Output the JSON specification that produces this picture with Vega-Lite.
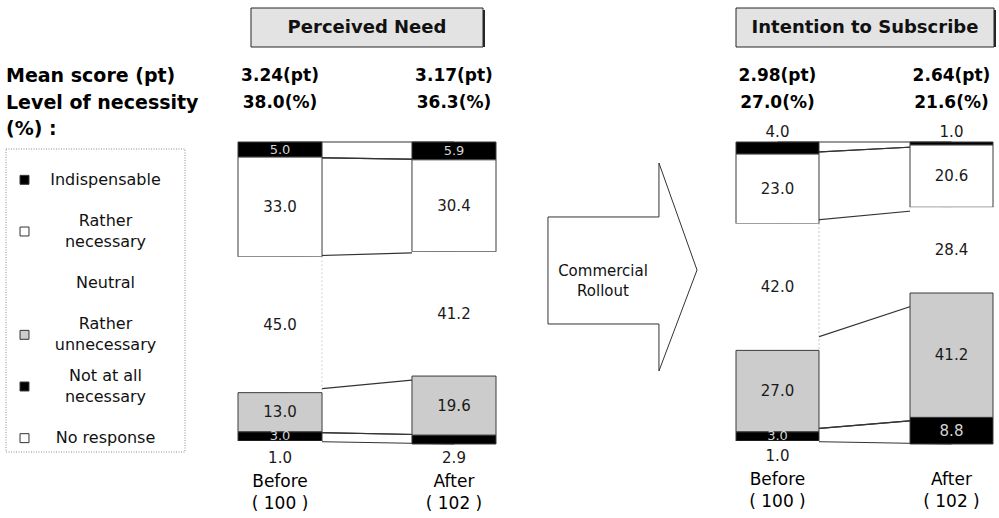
{
  "$schema": "https://vega.github.io/schema/vega-lite/v6.json",
  "background": "white",
  "padding": {"left": 5, "top": 7, "right": 0, "bottom": 0},
  "config": {"view": {"stroke": null}, "font": "DejaVu Sans"},
  "datasets": {
    "panels": [
      {"panel": "Perceived Need"},
      {"panel": "Intention to Subscribe"}
    ],
    "rows": [
      {"metric": "Mean score (pt)"},
      {"metric": "Level of necessity"},
      {"metric": "(%) :"}
    ],
    "stats": [
      {"panel": "Perceived Need", "stage": "Before", "metric": "Mean score (pt)", "text": "3.24(pt)"},
      {"panel": "Perceived Need", "stage": "After", "metric": "Mean score (pt)", "text": "3.17(pt)"},
      {"panel": "Perceived Need", "stage": "Before", "metric": "Level of necessity", "text": "38.0(%)"},
      {"panel": "Perceived Need", "stage": "After", "metric": "Level of necessity", "text": "36.3(%)"},
      {"panel": "Intention to Subscribe", "stage": "Before", "metric": "Mean score (pt)", "text": "2.98(pt)"},
      {"panel": "Intention to Subscribe", "stage": "After", "metric": "Mean score (pt)", "text": "2.64(pt)"},
      {"panel": "Intention to Subscribe", "stage": "Before", "metric": "Level of necessity", "text": "27.0(%)"},
      {"panel": "Intention to Subscribe", "stage": "After", "metric": "Level of necessity", "text": "21.6(%)"}
    ],
    "segments": [
      {"panel": "Perceived Need", "stage": "Before", "category": "Indispensable", "pct": 5.0},
      {"panel": "Perceived Need", "stage": "Before", "category": "Rather necessary", "pct": 33.0},
      {"panel": "Perceived Need", "stage": "Before", "category": "Neutral", "pct": 45.0},
      {"panel": "Perceived Need", "stage": "Before", "category": "Rather unnecessary", "pct": 13.0},
      {"panel": "Perceived Need", "stage": "Before", "category": "Not at all necessary", "pct": 3.0},
      {"panel": "Perceived Need", "stage": "Before", "category": "No response", "pct": 1.0},
      {"panel": "Perceived Need", "stage": "After", "category": "Indispensable", "pct": 5.9},
      {"panel": "Perceived Need", "stage": "After", "category": "Rather necessary", "pct": 30.4},
      {"panel": "Perceived Need", "stage": "After", "category": "Neutral", "pct": 41.2},
      {"panel": "Perceived Need", "stage": "After", "category": "Rather unnecessary", "pct": 19.6},
      {"panel": "Perceived Need", "stage": "After", "category": "Not at all necessary", "pct": 2.9},
      {"panel": "Intention to Subscribe", "stage": "Before", "category": "Indispensable", "pct": 4.0},
      {"panel": "Intention to Subscribe", "stage": "Before", "category": "Rather necessary", "pct": 23.0},
      {"panel": "Intention to Subscribe", "stage": "Before", "category": "Neutral", "pct": 42.0},
      {"panel": "Intention to Subscribe", "stage": "Before", "category": "Rather unnecessary", "pct": 27.0},
      {"panel": "Intention to Subscribe", "stage": "Before", "category": "Not at all necessary", "pct": 3.0},
      {"panel": "Intention to Subscribe", "stage": "Before", "category": "No response", "pct": 1.0},
      {"panel": "Intention to Subscribe", "stage": "After", "category": "Indispensable", "pct": 1.0},
      {"panel": "Intention to Subscribe", "stage": "After", "category": "Rather necessary", "pct": 20.6},
      {"panel": "Intention to Subscribe", "stage": "After", "category": "Neutral", "pct": 28.4},
      {"panel": "Intention to Subscribe", "stage": "After", "category": "Rather unnecessary", "pct": 41.2},
      {"panel": "Intention to Subscribe", "stage": "After", "category": "Not at all necessary", "pct": 8.8}
    ],
    "legend": [
      {"category": "Indispensable", "label": "Indispensable", "lines": 1},
      {"category": "Rather necessary", "label": "Rather\nnecessary", "lines": 2},
      {"category": "Neutral", "label": "Neutral", "lines": 1},
      {"category": "Rather unnecessary", "label": "Rather\nunnecessary", "lines": 2},
      {"category": "Not at all necessary", "label": "Not at all\nnecessary", "lines": 2},
      {"category": "No response", "label": "No response", "lines": 1}
    ]
  },
  "columns": 4,
  "align": "each",
  "bounds": "flush",
  "spacing": {"row": 3, "column": 53},
  "concat": [
    {"width": 179, "height": 55, "data": {"values": []}, "mark": "point"},
    {
      "width": 258,
      "height": 39,
      "data": {"name": "panels"},
      "transform": [{"filter": "datum.panel === 'Perceived Need'"}],
      "encoding": {
        "x": {"field": "panel", "type": "nominal", "scale": {"type": "band", "paddingInner": 0, "paddingOuter": 0.056}, "axis": null}
      },
      "layer": [
        {"mark": {"type": "rect", "fill": "#262626", "xOffset": 2, "yOffset": 2}},
        {"mark": {"type": "rect", "fill": "#e3e3e3", "stroke": "#262626", "strokeWidth": 1}},
        {"mark": {"type": "text", "fontSize": 18, "fontWeight": "bold", "color": "#111111"}, "encoding": {"text": {"field": "panel"}}}
      ]
    },
    {"width": 134, "height": 10, "data": {"values": []}, "mark": "point"},
    {
      "width": 258,
      "height": 39,
      "data": {"name": "panels"},
      "transform": [{"filter": "datum.panel === 'Intention to Subscribe'"}],
      "layer": [
        {"mark": {"type": "rect", "fill": "#262626", "xOffset": 2, "yOffset": 2}},
        {"mark": {"type": "rect", "fill": "#e3e3e3", "stroke": "#262626", "strokeWidth": 1}},
        {"mark": {"type": "text", "fontSize": 18, "fontWeight": "bold", "color": "#111111"}, "encoding": {"text": {"field": "panel"}}}
      ]
    },
    {
      "width": 179,
      "height": 73,
      "data": {"name": "rows"},
      "mark": {"type": "text", "align": "left", "baseline": "middle", "fontSize": 19, "fontWeight": "bold", "color": "#000000"},
      "encoding": {
        "x": {"datum": 0, "type": "quantitative", "scale": {"domain": [0, 1]}, "axis": null},
        "y": {"field": "metric", "type": "nominal", "scale": {"type": "point", "domain": ["Mean score (pt)", "Level of necessity", "(%) :"], "padding": 0.377}, "axis": null},
        "text": {"field": "metric"}
      }
    },
    {
      "width": 258,
      "height": 73,
      "data": {"name": "stats"},
      "transform": [{"filter": "datum.panel === 'Perceived Need'"}],
      "mark": {"type": "text", "baseline": "middle", "fontSize": 17, "fontWeight": "bold", "color": "#000000"},
      "encoding": {
        "x": {"field": "stage", "type": "nominal", "scale": {"type": "band", "domain": ["Before", "After"], "paddingInner": 0.517, "paddingOuter": 0}, "axis": null},
        "y": {"field": "metric", "type": "nominal", "scale": {"type": "point", "domain": ["Mean score (pt)", "Level of necessity", "(%) :"], "padding": 0.377}, "axis": null},
        "text": {"field": "text"}
      }
    },
    {"width": 134, "height": 10, "data": {"values": []}, "mark": "point"},
    {
      "width": 257,
      "height": 73,
      "data": {"name": "stats"},
      "transform": [{"filter": "datum.panel === 'Intention to Subscribe'"}],
      "mark": {"type": "text", "baseline": "middle", "fontSize": 17, "fontWeight": "bold", "color": "#000000"},
      "encoding": {
        "x": {"field": "stage", "type": "nominal", "scale": {"type": "band", "domain": ["Before", "After"], "paddingInner": 0.523, "paddingOuter": 0}, "axis": null},
        "y": {"field": "metric", "type": "nominal", "scale": {"type": "point", "domain": ["Mean score (pt)", "Level of necessity", "(%) :"], "padding": 0.377}, "axis": null},
        "text": {"field": "text"}
      }
    },
    {
      "width": 179,
      "height": 310,
      "layer": [
        {
          "data": {"values": [{}]},
          "mark": {"type": "rect", "fill": "transparent", "stroke": "#8c8c8c", "strokeWidth": 1, "strokeDash": [1, 1.5], "yOffset": 7}
        },
        {
          "data": {"name": "legend"},
          "transform": [{"filter": "datum.category !== 'Neutral'"}],
          "mark": {"type": "point", "shape": "square", "filled": true, "size": 80, "xOffset": -71, "yOffset": 12, "stroke": "#333333", "strokeWidth": 1, "opacity": 1},
          "encoding": {
            "y": {"field": "category", "type": "nominal", "scale": {"type": "point", "domain": ["Indispensable", "Rather necessary", "Neutral", "Rather unnecessary", "Not at all necessary", "No response"], "padding": 0.5}, "axis": null},
            "fill": {"field": "category", "type": "nominal", "scale": {"domain": ["Indispensable", "Rather necessary", "Neutral", "Rather unnecessary", "Not at all necessary", "No response"], "range": ["#000000", "#ffffff", "#ffffff", "#cccccc", "#000000", "#ffffff"]}, "legend": null}
          }
        },
        {
          "data": {"name": "legend"},
          "transform": [{"filter": "datum.lines === 1"}],
          "mark": {"type": "text", "baseline": "middle", "fontSize": 16, "dx": 10, "dy": 12, "color": "#111111"},
          "encoding": {
            "y": {"field": "category", "type": "nominal", "scale": {"type": "point", "domain": ["Indispensable", "Rather necessary", "Neutral", "Rather unnecessary", "Not at all necessary", "No response"], "padding": 0.5}, "axis": null},
            "text": {"field": "label"}
          }
        },
        {
          "data": {"name": "legend"},
          "transform": [{"filter": "datum.lines === 2"}],
          "mark": {"type": "text", "baseline": "middle", "fontSize": 16, "lineBreak": "\n", "lineHeight": 21, "dx": 10, "dy": 1.5, "color": "#111111"},
          "encoding": {
            "y": {"field": "category", "type": "nominal", "scale": {"type": "point", "domain": ["Indispensable", "Rather necessary", "Neutral", "Rather unnecessary", "Not at all necessary", "No response"], "padding": 0.5}, "axis": null},
            "text": {"field": "label"}
          }
        }
      ]
    },
    {
      "width": 258,
      "height": 302,
      "data": {"name": "segments"},
      "transform": [
        {"filter": "datum.panel === 'Perceived Need'"},
        {"calculate": "indexof(['Indispensable', 'Rather necessary', 'Neutral', 'Rather unnecessary', 'Not at all necessary', 'No response'], datum.category)", "as": "rank"},
        {"stack": "pct", "groupby": ["stage"], "sort": [{"field": "rank", "order": "ascending"}], "as": ["y0", "y1"]},
        {"calculate": "(datum.y0 + datum.y1) / 2", "as": "mid"}
      ],
      "encoding": {
        "x": {
          "field": "stage", "type": "nominal",
          "scale": {"type": "band", "domain": ["Before", "After"], "paddingInner": 0.517, "paddingOuter": 0},
          "axis": {"title": null, "domain": false, "ticks": false, "labelAngle": 0, "labelPadding": 29, "labelBaseline": "top", "labelFontSize": 17, "labelColor": "#000000", "labelLineHeight": 22, "labelExpr": "datum.value === 'Before' ? ['Before', '( 100 )'] : ['After', '( 102 )']"}
        }
      },
      "layer": [
        {
          "transform": [
            {"filter": {"field": "category", "oneOf": ["Indispensable", "Rather necessary", "Rather unnecessary", "Not at all necessary"]}},
            {"fold": ["y0", "y1"], "as": ["edge", "pos"]}
          ],
          "mark": {"type": "line", "stroke": "#333333", "strokeWidth": 1.2},
          "encoding": {
            "y": {"field": "pos", "type": "quantitative", "scale": {"domain": [0, 100], "reverse": true}, "axis": null},
            "detail": [{"field": "category"}, {"field": "edge"}]
          }
        },
        {
          "mark": {"type": "bar", "strokeWidth": 1},
          "encoding": {
            "y": {"field": "y0", "type": "quantitative", "scale": {"domain": [0, 100], "reverse": true}, "axis": null},
            "y2": {"field": "y1"},
            "fill": {"field": "category", "type": "nominal", "scale": {"domain": ["Indispensable", "Rather necessary", "Neutral", "Rather unnecessary", "Not at all necessary", "No response"], "range": ["#000000", "#ffffff", "#ffffff", "#cccccc", "#000000", "#ffffff"]}, "legend": null},
            "stroke": {"condition": {"test": "datum.category === 'Neutral' || datum.category === 'No response'", "value": "transparent"}, "value": "#3a3a3a"}
          }
        },
        {
          "transform": [{"filter": "datum.category === 'Neutral' && datum.stage === 'Before'"}],
          "mark": {"type": "rule", "stroke": "#b0b0b0", "strokeWidth": 1, "strokeDash": [1, 3]},
          "encoding": {
            "x": {"field": "stage", "type": "nominal", "bandPosition": 1},
            "y": {"field": "y0", "type": "quantitative", "scale": {"domain": [0, 100], "reverse": true}, "axis": null},
            "y2": {"field": "y1"}
          }
        },
        {
          "transform": [{"filter": "datum.category !== 'No response' && !(datum.stage === 'After' && datum.category === 'Not at all necessary')"}],
          "mark": {"type": "text", "baseline": "middle"},
          "encoding": {
            "y": {"field": "mid", "type": "quantitative", "scale": {"domain": [0, 100], "reverse": true}, "axis": null},
            "text": {"field": "pct", "type": "quantitative", "format": ".1f"},
            "size": {"condition": {"test": "datum.category === 'Indispensable' || datum.category === 'Not at all necessary'", "value": 13}, "value": 15},
            "color": {"condition": {"test": "datum.category === 'Indispensable' || datum.category === 'Not at all necessary'", "value": "#d4d4d4"}, "value": "#1a1a1a"}
          }
        },
        {
          "transform": [{"filter": "datum.category === 'No response' || (datum.stage === 'After' && datum.category === 'Not at all necessary')"}],
          "mark": {"type": "text", "baseline": "middle", "dy": 14, "fontSize": 15, "color": "#1a1a1a"},
          "encoding": {
            "y": {"field": "y1", "type": "quantitative", "scale": {"domain": [0, 100], "reverse": true}, "axis": null},
            "text": {"field": "pct", "type": "quantitative", "format": ".1f"}
          }
        }
      ]
    },
    {
      "width": 134,
      "height": 302,
      "data": {"values": [{"label": "Commercial\nRollout"}]},
      "layer": [
        {"mark": {"type": "point", "shape": "M-0.654,-0.731 L0.413,-0.731 L0.413,-1.25 L0.779,-0.221 L0.413,0.75 L0.413,0.298 L-0.654,0.298 Z", "size": 43264, "filled": true, "fill": "#ffffff", "stroke": "#333333", "strokeWidth": 1, "opacity": 1}},
        {"mark": {"type": "text", "fontSize": 15, "lineBreak": "\n", "lineHeight": 20, "dx": -13, "dy": -22, "color": "#111111"}, "encoding": {"text": {"field": "label"}}}
      ]
    },
    {
      "width": 257,
      "height": 302,
      "data": {"name": "segments"},
      "transform": [
        {"filter": "datum.panel === 'Intention to Subscribe'"},
        {"calculate": "indexof(['Indispensable', 'Rather necessary', 'Neutral', 'Rather unnecessary', 'Not at all necessary', 'No response'], datum.category)", "as": "rank"},
        {"stack": "pct", "groupby": ["stage"], "sort": [{"field": "rank", "order": "ascending"}], "as": ["y0", "y1"]},
        {"calculate": "(datum.y0 + datum.y1) / 2", "as": "mid"}
      ],
      "encoding": {
        "x": {
          "field": "stage", "type": "nominal",
          "scale": {"type": "band", "domain": ["Before", "After"], "paddingInner": 0.523, "paddingOuter": 0},
          "axis": {"title": null, "domain": false, "ticks": false, "labelAngle": 0, "labelPadding": 27, "labelBaseline": "top", "labelFontSize": 17, "labelColor": "#000000", "labelLineHeight": 22, "labelExpr": "datum.value === 'Before' ? ['Before', '( 100 )'] : ['After', '( 102 )']"}
        }
      },
      "layer": [
        {
          "transform": [
            {"filter": {"field": "category", "oneOf": ["Indispensable", "Rather necessary", "Rather unnecessary", "Not at all necessary"]}},
            {"fold": ["y0", "y1"], "as": ["edge", "pos"]}
          ],
          "mark": {"type": "line", "stroke": "#333333", "strokeWidth": 1.2},
          "encoding": {
            "y": {"field": "pos", "type": "quantitative", "scale": {"domain": [0, 100], "reverse": true}, "axis": null},
            "detail": [{"field": "category"}, {"field": "edge"}]
          }
        },
        {
          "mark": {"type": "bar", "strokeWidth": 1},
          "encoding": {
            "y": {"field": "y0", "type": "quantitative", "scale": {"domain": [0, 100], "reverse": true}, "axis": null},
            "y2": {"field": "y1"},
            "fill": {"field": "category", "type": "nominal", "scale": {"domain": ["Indispensable", "Rather necessary", "Neutral", "Rather unnecessary", "Not at all necessary", "No response"], "range": ["#000000", "#ffffff", "#ffffff", "#cccccc", "#000000", "#ffffff"]}, "legend": null},
            "stroke": {"condition": {"test": "datum.category === 'Neutral' || datum.category === 'No response'", "value": "transparent"}, "value": "#3a3a3a"}
          }
        },
        {
          "transform": [{"filter": "datum.category === 'Neutral' && datum.stage === 'Before'"}],
          "mark": {"type": "rule", "stroke": "#8a8a8a", "strokeWidth": 1, "strokeDash": [1, 3]},
          "encoding": {
            "x": {"field": "stage", "type": "nominal", "bandPosition": 1},
            "y": {"field": "y0", "type": "quantitative", "scale": {"domain": [0, 100], "reverse": true}, "axis": null},
            "y2": {"field": "y1"}
          }
        },
        {
          "transform": [{"filter": "datum.category !== 'No response' && datum.category !== 'Indispensable'"}],
          "mark": {"type": "text", "baseline": "middle"},
          "encoding": {
            "y": {"field": "mid", "type": "quantitative", "scale": {"domain": [0, 100], "reverse": true}, "axis": null},
            "text": {"field": "pct", "type": "quantitative", "format": ".1f"},
            "size": {"condition": {"test": "datum.category === 'Not at all necessary' && datum.pct < 5", "value": 13}, "value": 15},
            "color": {"condition": {"test": "datum.category === 'Not at all necessary'", "value": "#d4d4d4"}, "value": "#1a1a1a"}
          }
        },
        {
          "transform": [{"filter": "datum.category === 'Indispensable'"}],
          "mark": {"type": "text", "baseline": "middle", "dy": -10, "fontSize": 15, "color": "#1a1a1a"},
          "encoding": {
            "y": {"field": "y0", "type": "quantitative", "scale": {"domain": [0, 100], "reverse": true}, "axis": null},
            "text": {"field": "pct", "type": "quantitative", "format": ".1f"}
          }
        },
        {
          "transform": [{"filter": "datum.category === 'No response'"}],
          "mark": {"type": "text", "baseline": "middle", "dy": 12, "fontSize": 15, "color": "#1a1a1a"},
          "encoding": {
            "y": {"field": "y1", "type": "quantitative", "scale": {"domain": [0, 100], "reverse": true}, "axis": null},
            "text": {"field": "pct", "type": "quantitative", "format": ".1f"}
          }
        }
      ]
    }
  ]
}
